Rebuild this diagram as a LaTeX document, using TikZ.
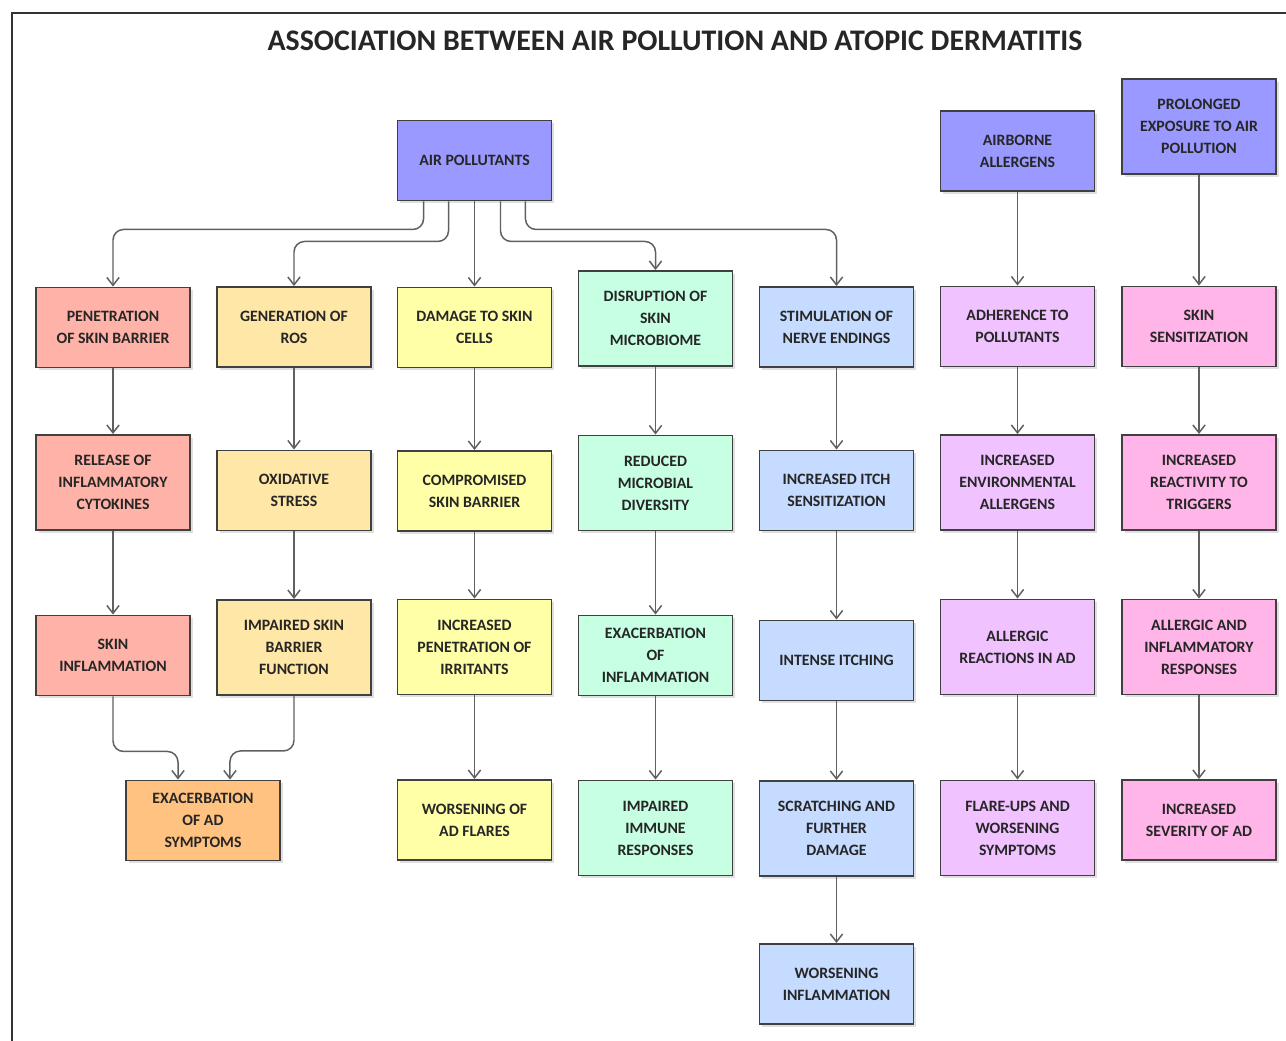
\documentclass[tikz,border=0pt]{standalone}
\usepackage{fontspec}
\setmainfont{Carlito}
\usetikzlibrary{arrows.meta,shadows}
\definecolor{topblue}{HTML}{9999FF}
\definecolor{salmon}{HTML}{FFB3A8}
\definecolor{cream}{HTML}{FFE7A8}
\definecolor{lemon}{HTML}{FFFFA8}
\definecolor{mint}{HTML}{C6FFE1}
\definecolor{sky}{HTML}{C5DBFF}
\definecolor{lilac}{HTML}{F0C2FF}
\definecolor{rose}{HTML}{FFB5E8}
\definecolor{apricot}{HTML}{FFC280}
\definecolor{boxline}{HTML}{404040}
\definecolor{linegray}{HTML}{606060}
\tikzset{
  box/.style={draw=boxline, line width=1.1pt, minimum width=3.08cm, minimum height=1.6cm,
    align=center, inner sep=2pt, text=black!85, font=\bfseries\fontsize{9}{12.5}\selectfont,
    drop shadow={opacity=0.25, shadow xshift=1.5pt, shadow yshift=-1.5pt}},
  tall/.style={minimum height=1.9cm},
  arr/.style={draw=linegray, line width=0.85pt, -{Straight Barb[length=4.5pt,width=7pt]}},
}
\begin{document}
\begin{tikzpicture}[x=0.02cm, y=-0.02cm]
\useasboundingbox (0,0) rectangle (1286,1041);
\draw[line width=1.2pt, black!80] (12,1060) -- (12,13) -- (1300,13);
\node[font=\bfseries\fontsize{17}{20}\selectfont, text=black!85] (title) at (675,41) {ASSOCIATION BETWEEN AIR POLLUTION AND ATOPIC DERMATITIS};
% sources
\node[box, fill=topblue] (airp) at (474.5,160.5) {AIR POLLUTANTS};
\node[box, fill=topblue] (airb) at (1017.5,151) {AIRBORNE\\ALLERGENS};
\node[box, tall, fill=topblue] (prol) at (1199,126.5) {PROLONGED\\EXPOSURE TO AIR\\POLLUTION};
% column 1
\node[box, fill=salmon] (pen) at (113,327.5) {PENETRATION\\OF SKIN BARRIER};
\node[box, tall, fill=salmon] (rel) at (113,482.5) {RELEASE OF\\INFLAMMATORY\\CYTOKINES};
\node[box, fill=salmon] (sinf) at (113,655.5) {SKIN\\INFLAMMATION};
\node[box, fill=apricot] (exad) at (203,820.5) {EXACERBATION\\OF AD\\SYMPTOMS};
% column 2
\node[box, fill=cream] (ros) at (294,327) {GENERATION OF\\ROS};
\node[box, fill=cream] (oxs) at (294,490.5) {OXIDATIVE\\STRESS};
\node[box, tall, fill=cream] (imps) at (294,647.5) {IMPAIRED SKIN\\BARRIER\\FUNCTION};
% column 3
\node[box, fill=lemon] (dmg) at (474.5,327.5) {DAMAGE TO SKIN\\CELLS};
\node[box, fill=lemon] (comp) at (474.5,491) {COMPROMISED\\SKIN BARRIER};
\node[box, tall, fill=lemon] (ipen) at (474.5,647) {INCREASED\\PENETRATION OF\\IRRITANTS};
\node[box, fill=lemon] (wfl) at (474.5,820) {WORSENING OF\\AD FLARES};
% column 4
\node[box, tall, fill=mint] (dis) at (655.5,318.5) {DISRUPTION OF\\SKIN\\MICROBIOME};
\node[box, tall, fill=mint] (red) at (655.5,483) {REDUCED\\MICROBIAL\\DIVERSITY};
\node[box, fill=mint] (exi) at (655.5,655.5) {EXACERBATION\\OF\\INFLAMMATION};
\node[box, tall, fill=mint] (imm) at (655.5,828) {IMPAIRED\\IMMUNE\\RESPONSES};
% column 5
\node[box, fill=sky] (stim) at (836.5,327) {STIMULATION OF\\NERVE ENDINGS};
\node[box, fill=sky] (itch) at (836.5,490.5) {INCREASED ITCH\\SENSITIZATION};
\node[box, fill=sky] (intn) at (836.5,660.5) {INTENSE ITCHING};
\node[box, tall, fill=sky] (scr) at (836.5,828.5) {SCRATCHING AND\\FURTHER\\DAMAGE};
\node[box, fill=sky] (winf) at (836.5,984) {WORSENING\\INFLAMMATION};
% column 6
\node[box, fill=lilac] (adh) at (1017.5,326.5) {ADHERENCE TO\\POLLUTANTS};
\node[box, tall, fill=lilac] (env) at (1017.5,482.5) {INCREASED\\ENVIRONMENTAL\\ALLERGENS};
\node[box, tall, fill=lilac] (alr) at (1017.5,647) {ALLERGIC\\REACTIONS IN AD};
\node[box, tall, fill=lilac] (flr) at (1017.5,828) {FLARE-UPS AND\\WORSENING\\SYMPTOMS};
% column 7
\node[box, fill=rose] (sens) at (1199,326.5) {SKIN\\SENSITIZATION};
\node[box, tall, fill=rose] (reac) at (1199,482.5) {INCREASED\\REACTIVITY TO\\TRIGGERS};
\node[box, tall, fill=rose] (ainf) at (1199,647) {ALLERGIC AND\\INFLAMMATORY\\RESPONSES};
\node[box, fill=rose] (sev) at (1199,820) {INCREASED\\SEVERITY OF AD};
% arrows
\foreach \a/\b in {pen/rel, rel/sinf, ros/oxs, oxs/imps, dmg/comp, comp/ipen, ipen/wfl,
  dis/red, red/exi, exi/imm, stim/itch, itch/intn, intn/scr, scr/winf,
  airb/adh, adh/env, env/alr, alr/flr, prol/sens, sens/reac, reac/ainf, ainf/sev}
  \draw[arr] (\a) -- (\b);
\draw[arr, rounded corners=6pt] ([xshift=-1.02cm]airp.south) -- ++(0,28) -| (pen);
\draw[arr, rounded corners=6pt] ([xshift=-0.52cm]airp.south) -- ++(0,40) -| (ros);
\draw[arr] (airp) -- (dmg);
\draw[arr, rounded corners=6pt] ([xshift=0.52cm]airp.south) -- ++(0,40) -| (dis);
\draw[arr, rounded corners=6pt] ([xshift=1.02cm]airp.south) -- ++(0,28) -| (stim);
\draw[arr, rounded corners=6pt] (sinf.south) -- ++(0,55) -| ([xshift=-0.5cm]exad.north);
\draw[arr, rounded corners=6pt] (imps.south) -- ++(0,55) -| ([xshift=0.54cm]exad.north);
\end{tikzpicture}
\end{document}
